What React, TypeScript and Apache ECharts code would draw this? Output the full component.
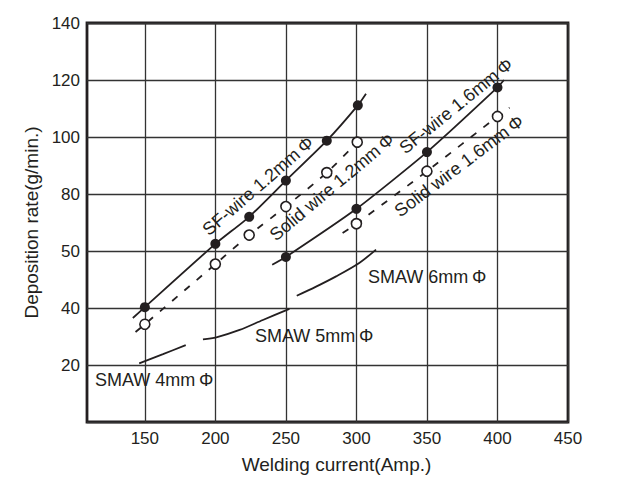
import React, { useEffect, useRef } from "react";
import * as echarts from "echarts";

// ---- data ----
const xTickValues = [150, 200, 250, 300, 350, 400, 450];
const yTickValues = [20, 40, 60, 80, 100, 120, 140];
const yTickLabels = ["20", "40", "50", "80", "100", "120", "140"];

// [current, rate, marker?]  marker 0 = line extension without symbol
const sfWire12 = [
  [141.5, 36.5, 0], [150, 40.3, 1], [200, 62.5, 1], [224, 72, 1], [250, 84.7, 1],
  [279, 98.7, 1], [301, 111.1, 1], [306.8, 115.2, 0],
];
const solidWire12 = [
  [143.4, 31.6, 0], [150, 34.3, 1], [200, 55.4, 1], [224, 65.6, 1], [250, 75.6, 1],
  [279, 87.5, 1], [300.6, 98.2, 1], [305, 101, 0],
];
const sfWire16 = [
  [240.3, 55.2, 0], [250, 57.9, 1], [300, 74.8, 1], [350, 94.7, 1], [400, 117.4, 1], [404.6, 120, 0],
];
const solidWire16 = [
  [290.2, 66.3, 0], [300, 69.6, 1], [350, 88.0, 1], [400, 107.2, 1], [408.6, 110.3, 0],
];
const smaw4 = [[146, 20.6], [162.9, 23.8], [179, 27.0]];
const smaw5 = [[191.2, 29.0], [200.7, 29.7], [217.2, 32.3], [233.7, 35.8], [252.5, 39.7]];
const smaw6 = [[257.7, 44.3], [271.4, 47.5], [285.6, 51.1], [302, 55.8], [313.9, 60.5]];

const INK = "#231f20";
const FONT = "'Liberation Sans', Arial, Helvetica, sans-serif";

function toItems(arr: number[][]) {
  return arr.map((p) => ({
    value: [p[0], p[1]],
    symbol: p[2] === 0 ? "none" : undefined,
  }));
}

export default function App() {
  const ref = useRef<HTMLDivElement>(null);
  useEffect(() => {
    if (!ref.current) return;
    const chart = echarts.init(ref.current, undefined, { renderer: "svg" });
    const lineSeries = (name: string, data: number[][], dashed: boolean, filled: boolean) => ({
      name,
      type: "line",
      data: toItems(data),
      smooth: 0.2,
      symbol: "circle",
      symbolSize: 10,
      showSymbol: true,
      itemStyle: {
        color: filled ? INK : "#ffffff",
        borderColor: INK,
        borderWidth: filled ? 0 : 1.6,
      },
      lineStyle: { color: INK, width: 1.8, type: dashed ? [7, 9] : "solid" },
      z: 3,
    });
    const plain = (name: string, data: number[][]) => ({
      name,
      type: "line",
      data,
      smooth: 0.3,
      symbol: "none",
      lineStyle: { color: INK, width: 1.8 },
    });
    const rot = (deg: number) => (deg * Math.PI) / 180;
    const label = (text: string, x: number, y: number, deg: number) => ({
      type: "text",
      x,
      y,
      rotation: rot(deg),
      z: 10,
      style: {
        text,
        font: `18px ${FONT}`,
        fill: INK,
        align: "center",
        verticalAlign: "middle",
      },
    });
    const flat = (text: string, x: number, y: number) => ({
      type: "text",
      x,
      y,
      z: 10,
      style: { text, font: `18px ${FONT}`, fill: INK, align: "left", verticalAlign: "middle" },
    });
    chart.setOption({
      animation: false,
      backgroundColor: "#ffffff",
      grid: {
        left: 87,
        top: 23,
        right: 52,
        bottom: 74,
        show: true,
        borderWidth: 2.8,
        borderColor: INK,
      },
      xAxis: {
        type: "value",
        min: 109,
        max: 450,
        name: "Welding current(Amp.)",
        nameLocation: "middle",
        nameGap: 33,
        nameTextStyle: { fontSize: 19, color: INK, fontFamily: FONT, padding: [0, 0, 0, 18] },
        axisLine: { show: false },
        axisTick: { show: false, customValues: xTickValues },
        axisLabel: {
          customValues: xTickValues,
          fontSize: 17,
          color: INK,
          fontFamily: FONT,
          margin: 8,
        },
        splitLine: { show: true, lineStyle: { color: "#333", width: 1.3 } },
      },
      yAxis: {
        type: "value",
        min: 0,
        max: 140,
        interval: 20,
        name: "Deposition rate(g/min.)",
        nameLocation: "middle",
        nameGap: 41,
        nameTextStyle: { fontSize: 19, color: INK, fontFamily: FONT },
        axisLine: { show: false },
        axisTick: { show: false },
        axisLabel: {
          fontSize: 17,
          color: INK,
          fontFamily: FONT,
          margin: 7,
          showMinLabel: false,
          formatter: (v: number) => {
            const i = yTickValues.indexOf(v);
            return i >= 0 ? yTickLabels[i] : "";
          },
        },
        splitLine: { show: true, lineStyle: { color: "#333", width: 1.3 } },
      },
      series: [
        lineSeries("SF-wire 1.2mmΦ", sfWire12, false, true),
        lineSeries("Solid wire 1.2mmΦ", solidWire12, true, false),
        lineSeries("SF-wire 1.6mmΦ", sfWire16, false, true),
        lineSeries("Solid wire 1.6mmΦ", solidWire16, true, false),
        plain("SMAW 4mmΦ", smaw4),
        plain("SMAW 5mmΦ", smaw5),
        plain("SMAW 6mmΦ", smaw6),
      ],
      graphic: [
        label("SF-wire 1.2mm\u2009Φ", 258, 186, 41),
        label("Solid wire 1.2mm\u2009Φ", 332, 187, 40),
        label("SF-wire 1.6mm\u2009Φ", 456, 106, 39),
        label("Solid wire 1.6mm\u2009Φ", 459, 166, 37),
        flat("SMAW 4mm\u2009Φ", 95, 380),
        flat("SMAW 5mm\u2009Φ", 255, 336),
        flat("SMAW 6mm\u2009Φ", 368, 277),
      ],
    });
    return () => chart.dispose();
  }, []);
  return (
    <div
      ref={ref}
      style={{ position: "fixed", left: 0, top: 0, width: 620, height: 496 }}
    />
  );
}
